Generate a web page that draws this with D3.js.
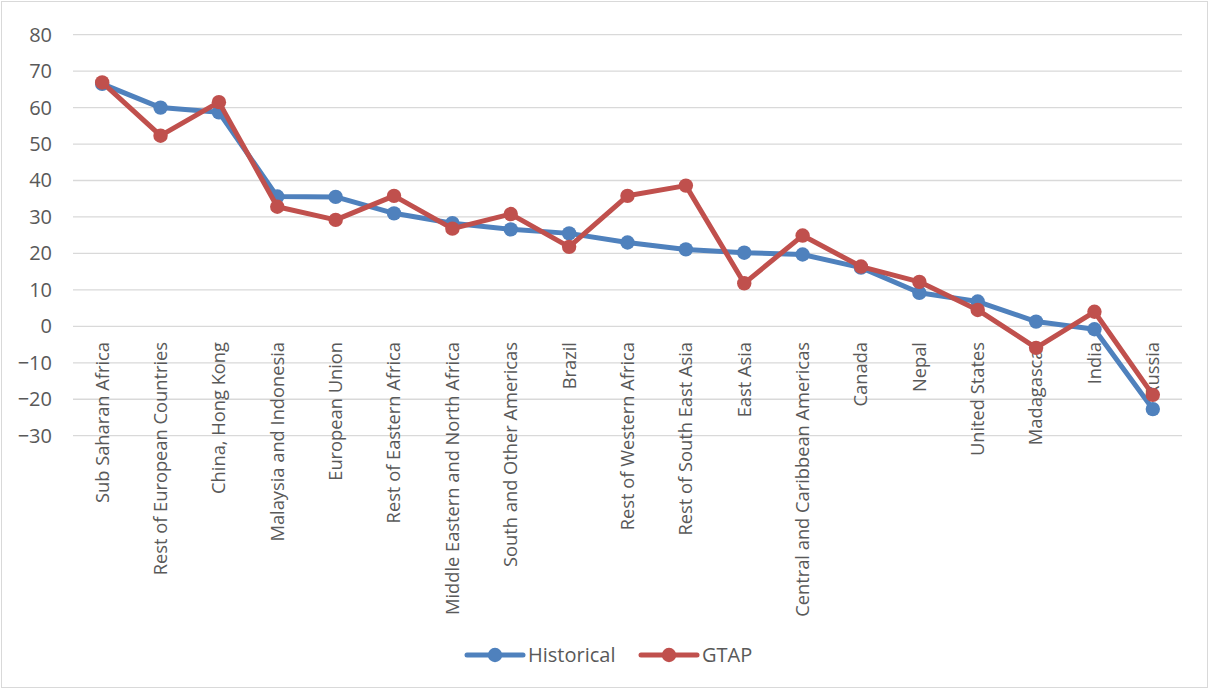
<!DOCTYPE html>
<html>
<head>
<meta charset="utf-8">
<script src="https://cdn.jsdelivr.net/npm/d3@7"></script>
<style>
body { margin: 0; background: #fff; }
text { font-family: "Open Sans", sans-serif; fill: #595959; }
</style>
</head>
<body>
<svg width="1210" height="690"></svg>
<script>
var categories = ["Sub Saharan Africa", "Rest of European Countries", "China, Hong Kong",
	"Malaysia and Indonesia", "European Union", "Rest of Eastern Africa",
	"Middle Eastern and North Africa", "South and Other Americas", "Brazil",
	"Rest of Western Africa", "Rest of South East Asia", "East Asia",
	"Central and Caribbean Americas", "Canada", "Nepal", "United States",
	"Madagascar", "India", "Russia"];
var historical = [66.5, 60.0, 58.7, 35.6, 35.5, 31.0, 28.3, 26.6, 25.5, 23.0, 21.1, 20.2, 19.7, 16.1, 9.2, 6.8, 1.3, -0.8, -22.7];
var gtap = [66.9, 52.3, 61.5, 32.8, 29.2, 35.8, 26.8, 30.8, 21.8, 35.8, 38.6, 11.8, 24.9, 16.4, 12.2, 4.5, -5.9, 4.0, -18.8];
var yTicks = [-30, -20, -10, 0, 10, 20, 30, 40, 50, 60, 70, 80];

var seriesList = [
	{name: "Historical", values: historical, color: "#4F81BD"},
	{name: "GTAP", values: gtap, color: "#C0504D"}
];

var svg = d3.select("svg");

// outer frame
svg.append("rect")
	.attr("x", 1.5).attr("y", 1.5)
	.attr("width", 1206).attr("height", 686)
	.attr("fill", "none").attr("stroke", "#d9d9d9");

var x = d3.scaleBand().domain(categories).range([73, 1182]);
var y = d3.scaleLinear().domain([-30, 80]).range([435.7, 34.7]);

// gridlines
svg.append("g").selectAll("line")
	.data(yTicks)
	.enter().append("line")
	.attr("x1", 73).attr("x2", 1182)
	.attr("y1", function(d){ return y(d); })
	.attr("y2", function(d){ return y(d); })
	.attr("stroke", "#d9d9d9").attr("stroke-width", 1.3);

// y axis labels
var yAxis = d3.axisLeft(y).tickValues(yTicks).tickSize(0).tickPadding(0);
var gy = svg.append("g").attr("transform", "translate(52,0)").call(yAxis);
gy.select(".domain").remove();
gy.attr("font-size", null).attr("font-family", null);
gy.selectAll("text").style("font-size", "20px").attr("fill", "#595959");

// category labels (rotated)
svg.append("g").selectAll("text")
	.data(categories)
	.enter().append("text")
	.attr("transform", function(d){
		return "translate(" + (x(d) + x.bandwidth() / 2) + ",342) rotate(-90)";
	})
	.attr("text-anchor", "end")
	.attr("dy", "0.35em")
	.style("font-size", "18.3px")
	.text(function(d){ return d; });

var line = d3.line()
	.x(function(d, i){ return x(categories[i]) + x.bandwidth() / 2; })
	.y(function(d){ return y(d); });

seriesList.forEach(function(s){
	var g = svg.append("g");
	g.append("path")
		.attr("d", line(s.values))
		.attr("fill", "none")
		.attr("stroke", s.color)
		.attr("stroke-width", 5)
		.attr("stroke-linejoin", "round");
	g.selectAll("circle")
		.data(s.values)
		.enter().append("circle")
		.attr("cx", function(d, i){ return x(categories[i]) + x.bandwidth() / 2; })
		.attr("cy", function(d){ return y(d); })
		.attr("r", 7.2)
		.attr("fill", s.color);
});

// legend
var legendX = [467, 641];
var legend = svg.append("g").selectAll("g")
	.data(seriesList)
	.enter().append("g")
	.attr("transform", function(d, i){ return "translate(" + legendX[i] + ",655)"; });
legend.append("line")
	.attr("x1", 0).attr("x2", 56)
	.attr("stroke", function(d){ return d.color; })
	.attr("stroke-width", 5).attr("stroke-linecap", "round");
legend.append("circle")
	.attr("cx", 28).attr("r", 7.2)
	.attr("fill", function(d){ return d.color; });
legend.append("text")
	.attr("x", 61).attr("dy", "0.35em")
	.style("font-size", "20px")
	.text(function(d){ return d.name; });
</script>
</body>
</html>
